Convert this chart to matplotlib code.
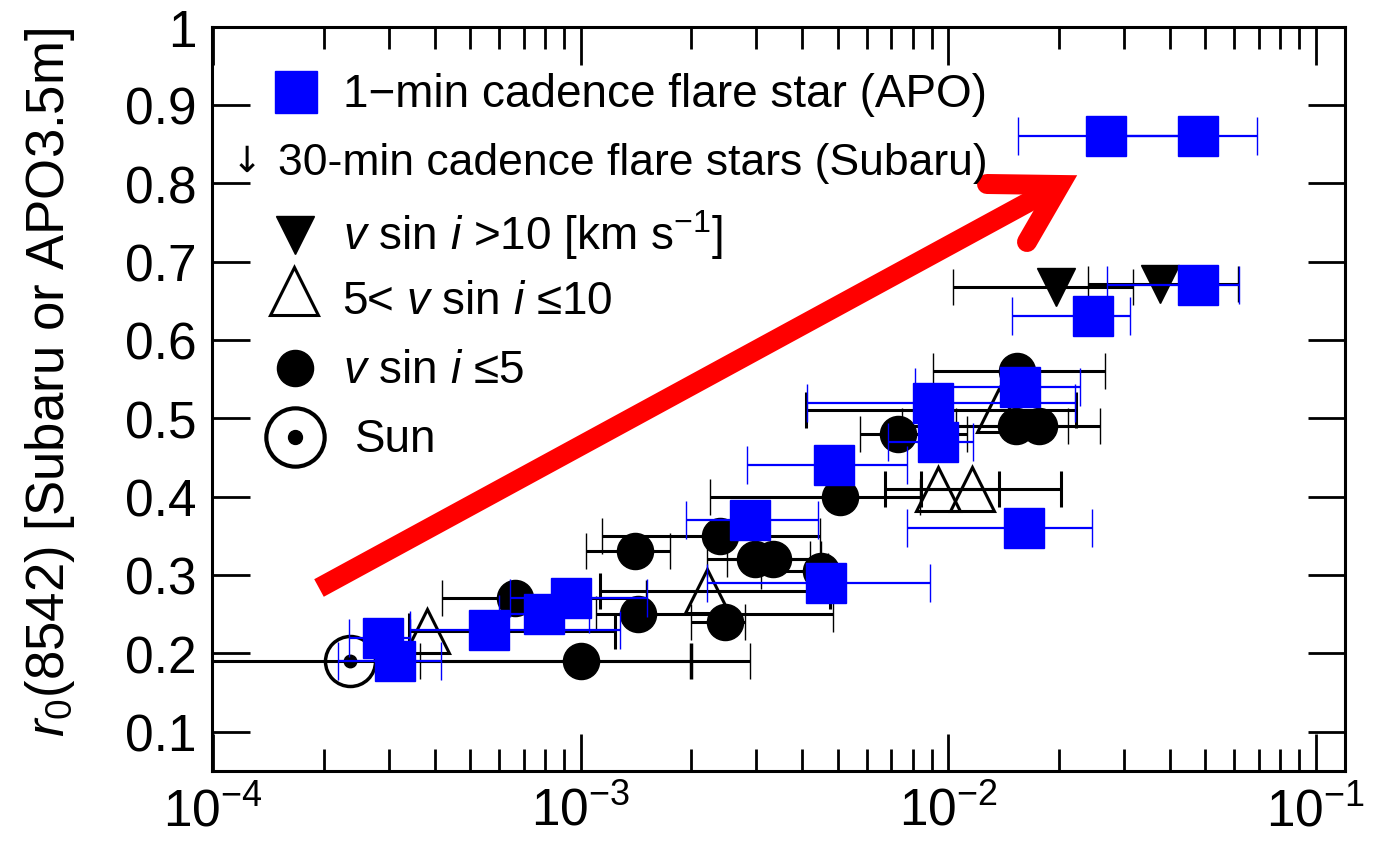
import numpy as np
import matplotlib
matplotlib.use("Agg")
import matplotlib.pyplot as plt
from matplotlib.lines import Line2D
from matplotlib.ticker import FixedLocator, LogLocator, NullFormatter

plt.rcParams['font.family'] = ['Liberation Sans', 'DejaVu Sans']
plt.rcParams['mathtext.fontset'] = 'custom'
plt.rcParams['mathtext.rm'] = 'Liberation Sans'
plt.rcParams['mathtext.it'] = 'Liberation Sans:italic'
plt.rcParams['mathtext.bf'] = 'Liberation Sans:bold'

# 1-min cadence flare stars (APO): x, r0, and left/right ends of the x error bar
apo_x = [0.0269, 0.0479, 0.0247, 0.0478, 0.00911, 0.00935, 0.0157, 0.00487,
         0.0161, 0.00288, 0.00464, 0.00029, 0.000312, 0.000562, 0.000794, 0.000943]
apo_y = [0.86, 0.86, 0.63, 0.67, 0.52, 0.47, 0.54, 0.44,
         0.36, 0.37, 0.29, 0.22, 0.19, 0.23, 0.25, 0.27]
apo_lo = [0.0155, 0.0275, 0.0149, 0.0270, 0.00412, 0.00686, 0.00812, 0.00283,
          0.00771, 0.00193, 0.0022, 0.000234, 0.000219, 0.000343, 0.0006, 0.000642]
apo_hi = [0.0454, 0.0692, 0.0312, 0.0617, 0.0221, 0.01166, 0.0228, 0.00771,
          0.0246, 0.00443, 0.00892, 0.000343, 0.000416, 0.00128, 0.00105, 0.00151]

# Subaru stars, v sin i <= 5
slow_x = [0.000663, 0.0014, 0.00143, 0.001, 0.00239, 0.00298, 0.00334,
          0.00247, 0.0045, 0.00508, 0.0073, 0.0154, 0.0153, 0.0176]
slow_y = [0.27, 0.33, 0.25, 0.19, 0.35, 0.32, 0.32,
          0.24, 0.305, 0.40, 0.48, 0.56, 0.49, 0.49]
slow_lo = [0.00042, 0.00103, 0.0011, 0.000365, 0.00114, 0.0022, 0.0025,
           0.0020, 0.0031, 0.00225, 0.00575, 0.0091, 0.0075, 0.0105]
slow_hi = [0.0015, 0.00175, 0.00486, 0.00289, 0.00448, 0.0042, 0.0045,
           0.0028, 0.0047, 0.00838, 0.01125, 0.0267, 0.0212, 0.0259]

# 5 < v sin i <= 10
mid_x = [0.000381, 0.00221, 0.0137, 0.00935, 0.0116]
mid_y = [0.228, 0.279, 0.51, 0.41, 0.41]
mid_lo = [0.00034, 0.00113, 0.0041, 0.00672, 0.0084]
mid_hi = [0.00124, 0.00476, 0.0222, 0.01375, 0.0202]

# v sin i > 10
fast_x = [0.0196, 0.0377]
fast_y = [0.667, 0.671]
fast_lo = [0.0103, 0.0240]
fast_hi = [0.0318, 0.0615]

# Sun
sun_x = [0.000235]
sun_y = [0.19]
sun_lo = [5e-5]
sun_hi = [0.00199]

W, H = 1376, 853


def fx(px):
    return px / W


def fy(py):
    return 1 - py / H


def draw_group(ax, x, y, lo, hi, color, marker, ms, mfc, elw, z, mew=1.0, cap=13):
    x = np.array(x)
    xerr = [x - np.array(lo), np.array(hi) - x]
    ax.errorbar(x, y, xerr=xerr, fmt=marker, ms=ms, mfc=mfc, mec=color, mew=mew,
                ecolor=color, elinewidth=elw, capsize=cap, capthick=elw, zorder=z)


fig = plt.figure(figsize=(W / 100, H / 100), dpi=100)
ax = fig.add_axes([fx(211.7), fy(771.7), fx(1345) - fx(211.7), fy(27.5) - fy(771.7)])

ax.set_xscale('log')
ax.set_xlim(9.9e-5, 0.12)
ax.set_ylim(0.05, 1.0)

ax.xaxis.set_major_locator(FixedLocator([1e-4, 1e-3, 1e-2, 1e-1]))
ax.xaxis.set_minor_locator(LogLocator(base=10, subs=np.arange(2, 10)))
ax.xaxis.set_minor_formatter(NullFormatter())
yt = np.round(np.arange(0.1, 1.01, 0.1), 1)
ax.set_yticks(yt)
ax.set_yticklabels(['%g' % v for v in yt])

ax.tick_params(axis='both', which='major', direction='in', length=27, width=2,
               top=True, right=True, labelsize=37, pad=11)
ax.tick_params(axis='x', which='minor', direction='in', length=16, width=2, top=True)
for s in ax.spines.values():
    s.set_linewidth(2.2)

# black symbols first, blue squares on top
draw_group(ax, sun_x, sun_y, sun_lo, sun_hi, 'black', 'o', 36, 'none', 2.2, 2, mew=2.5)
ax.plot(sun_x, sun_y, 'o', ms=9, color='black', zorder=2)
draw_group(ax, slow_x, slow_y, slow_lo, slow_hi, 'black', 'o', 26, 'black', 2.2, 2)
draw_group(ax, mid_x, mid_y, mid_lo, mid_hi, 'black', '^', 31, 'none', 2.2, 2, mew=2.2)
draw_group(ax, fast_x, fast_y, fast_lo, fast_hi, 'black', 'v', 27, 'black', 2.2, 2)
draw_group(ax, apo_x, apo_y, apo_lo, apo_hi, 'blue', 's', 29, 'blue', 1.6, 3, cap=14)

# legend rows
def key(px, py, **kw):
    fig.add_artist(Line2D([fx(px)], [fy(py)], transform=fig.transFigure, ls='none', **kw))

key(295.5, 92.5, marker='s', ms=30, mfc='blue', mec='blue', mew=1)
key(295, 236, marker='v', ms=28, mfc='black', mec='black')
key(294, 292, marker='^', ms=34, mfc='none', mec='black', mew=2.2)
key(294.5, 368.5, marker='o', ms=26, mfc='black', mec='black')
key(295, 437.5, marker='o', ms=42, mfc='none', mec='black', mew=3)
key(295, 437.5, marker='o', ms=10, mfc='black', mec='black')

lfs = 33
fig.text(fx(343), fy(107), '1\u2212min cadence flare star (APO)', fontsize=lfs, va='baseline')
fig.text(fx(343), fy(250), '$v$ sin $i$ >10 [km s$^{-1}$]', fontsize=lfs, va='baseline')
fig.text(fx(342), fy(314), '5< $v$ sin $i$ \u226410', fontsize=lfs, va='baseline')
fig.text(fx(343), fy(383), '$v$ sin $i$ \u22645', fontsize=lfs, va='baseline')
fig.text(fx(355), fy(452), 'Sun', fontsize=lfs, va='baseline')

# red arrow pointing at the 30-min cadence point group
red_w = 14.4
shaft = Line2D([fx(319), fx(1060)], [fy(589), fy(186)], transform=fig.transFigure,
               color='red', lw=red_w, solid_capstyle='butt', zorder=10)
head = Line2D([fx(987), fx(1060), fx(1027)], [fy(185), fy(186), fy(243)],
              transform=fig.transFigure, color='red', lw=red_w,
              solid_capstyle='round', solid_joinstyle='miter', zorder=10)
fig.add_artist(shaft)
fig.add_artist(head)

fig.text(fx(246.5), fy(162), '\u2193', fontsize=26, family='DejaVu Sans',
         ha='center', va='center', zorder=11)
fig.text(fx(278), fy(175), '30-min cadence flare stars (Subaru)', fontsize=32,
         va='baseline', zorder=11)

fig.text(fx(50), fy(382), '$r_0$(8542) [Subaru or APO3.5m]', rotation=90,
         fontsize=38, ha='center', va='center')

fig.savefig('out.png', dpi=100)
